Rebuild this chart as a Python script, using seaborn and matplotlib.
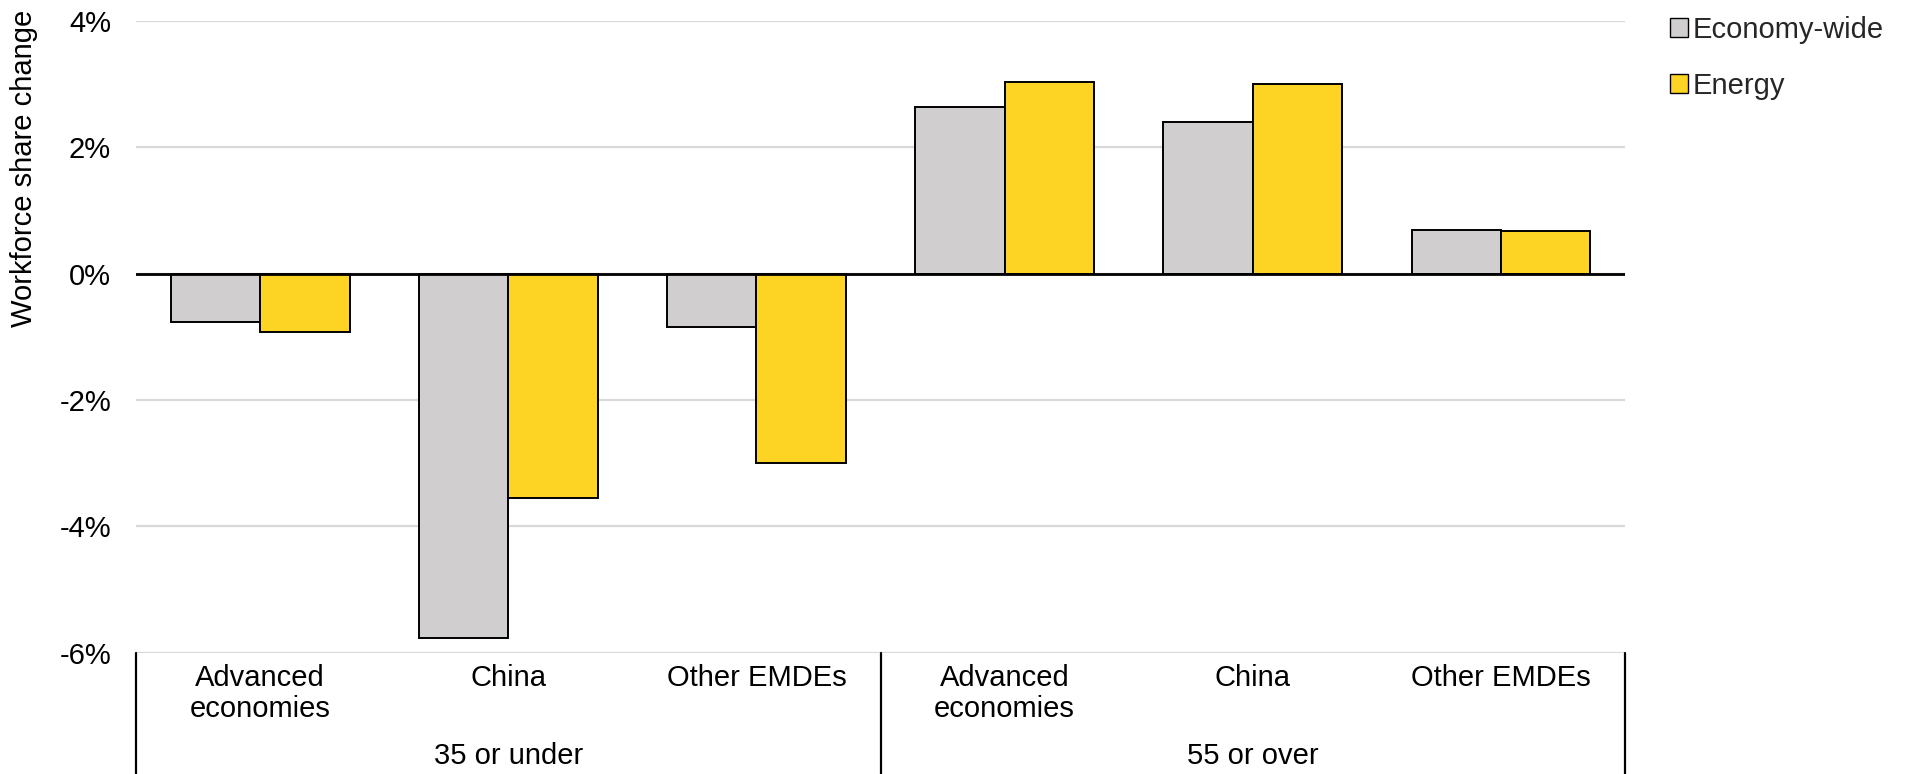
import matplotlib
matplotlib.use("Agg")
import matplotlib.pyplot as plt
import matplotlib.transforms as mtransforms
from matplotlib.patches import Patch
from matplotlib.ticker import FuncFormatter
import pandas as pd
import seaborn as sns

# Data: change in workforce share (percentage points) by age group and region
age_groups = ["35 or under", "55 or over"]
regions = ["Advanced\neconomies", "China", "Other EMDEs"]
series_names = ["Economy-wide", "Energy"]
economy_wide_35 = [-0.77, -5.76, -0.85]
energy_35 = [-0.93, -3.55, -3.00]
economy_wide_55 = [2.63, 2.40, 0.69]
energy_55 = [3.03, 3.00, 0.68]
y_ticks = [-6, -4, -2, 0, 2, 4]

colors = ["#D0CECF", "#FDD324"]

rows = []
slot_labels = []
for g, (econ, ener) in enumerate([(economy_wide_35, energy_35), (economy_wide_55, energy_55)]):
    for r, region in enumerate(regions):
        slot = f"{age_groups[g]}|{region}"
        slot_labels.append(region)
        rows.append({"slot": slot, "series": series_names[0], "value": econ[r]})
        rows.append({"slot": slot, "series": series_names[1], "value": ener[r]})
df = pd.DataFrame(rows)
slot_order = list(dict.fromkeys(df["slot"]))

sns.set_theme(style="white")
plt.rcParams["font.family"] = ["Liberation Sans", "DejaVu Sans"]
plt.rcParams["axes.unicode_minus"] = False

FS = 21
fig = plt.figure(figsize=(19.06, 7.74), dpi=100)
ax = fig.add_axes([0.0714, 0.1566, 0.7812, 0.8167])

sns.barplot(data=df, x="slot", y="value", hue="series", order=slot_order,
            hue_order=series_names, palette=colors, width=0.72,
            edgecolor="black", linewidth=1.4, saturation=1, ax=ax,
            legend=False, zorder=3)

ax.set_xlim(-0.5, len(slot_order) - 0.5)
ax.set_ylim(-6, 4)
ax.set_yticks(y_ticks)
ax.yaxis.set_major_formatter(FuncFormatter(lambda v, _: f"{v:.0f}%"))
ax.grid(axis="y", color="#D9D9D9", linewidth=1.6, zorder=0)
ax.set_axisbelow(True)
ax.axhline(0, color="black", linewidth=2, zorder=4)
for s in ax.spines.values():
    s.set_visible(False)

ax.tick_params(axis="y", length=0, pad=18, labelsize=FS, colors="black")
ax.tick_params(axis="x", length=0, pad=8, labelsize=FS, colors="black")
ax.set_xticks(range(len(slot_order)))
ax.set_xticklabels(slot_labels, linespacing=1.15)
ax.set_xlabel("")
ax.set_ylabel("Workforce share change", fontsize=FS, color="black")
ax.yaxis.set_label_coords(-0.066, 0.767)

# Group separators and group labels below the category axis
trans = mtransforms.blended_transform_factory(ax.transData, ax.transAxes)
for xs in [-0.5, 2.5, 5.5]:
    ax.plot([xs, xs], [0, -0.2], transform=trans, color="black",
            linewidth=1.6, clip_on=False)
for g, name in enumerate(age_groups):
    ax.text(1 + 3 * g, -0.164, name, transform=trans, ha="center",
            va="center", fontsize=FS, color="black")

handles = [Patch(facecolor=c, edgecolor="black", linewidth=1.0) for c in colors]
fig.legend(handles, series_names, loc="upper left",
           bbox_to_anchor=(1670 / 1906, 1 - 16 / 774), frameon=False,
           fontsize=FS, handlelength=0.62, handleheight=0.62,
           handletextpad=0.15, labelspacing=0.95, borderpad=0,
           borderaxespad=0)

fig.savefig("out.png", dpi=100, facecolor="white")
